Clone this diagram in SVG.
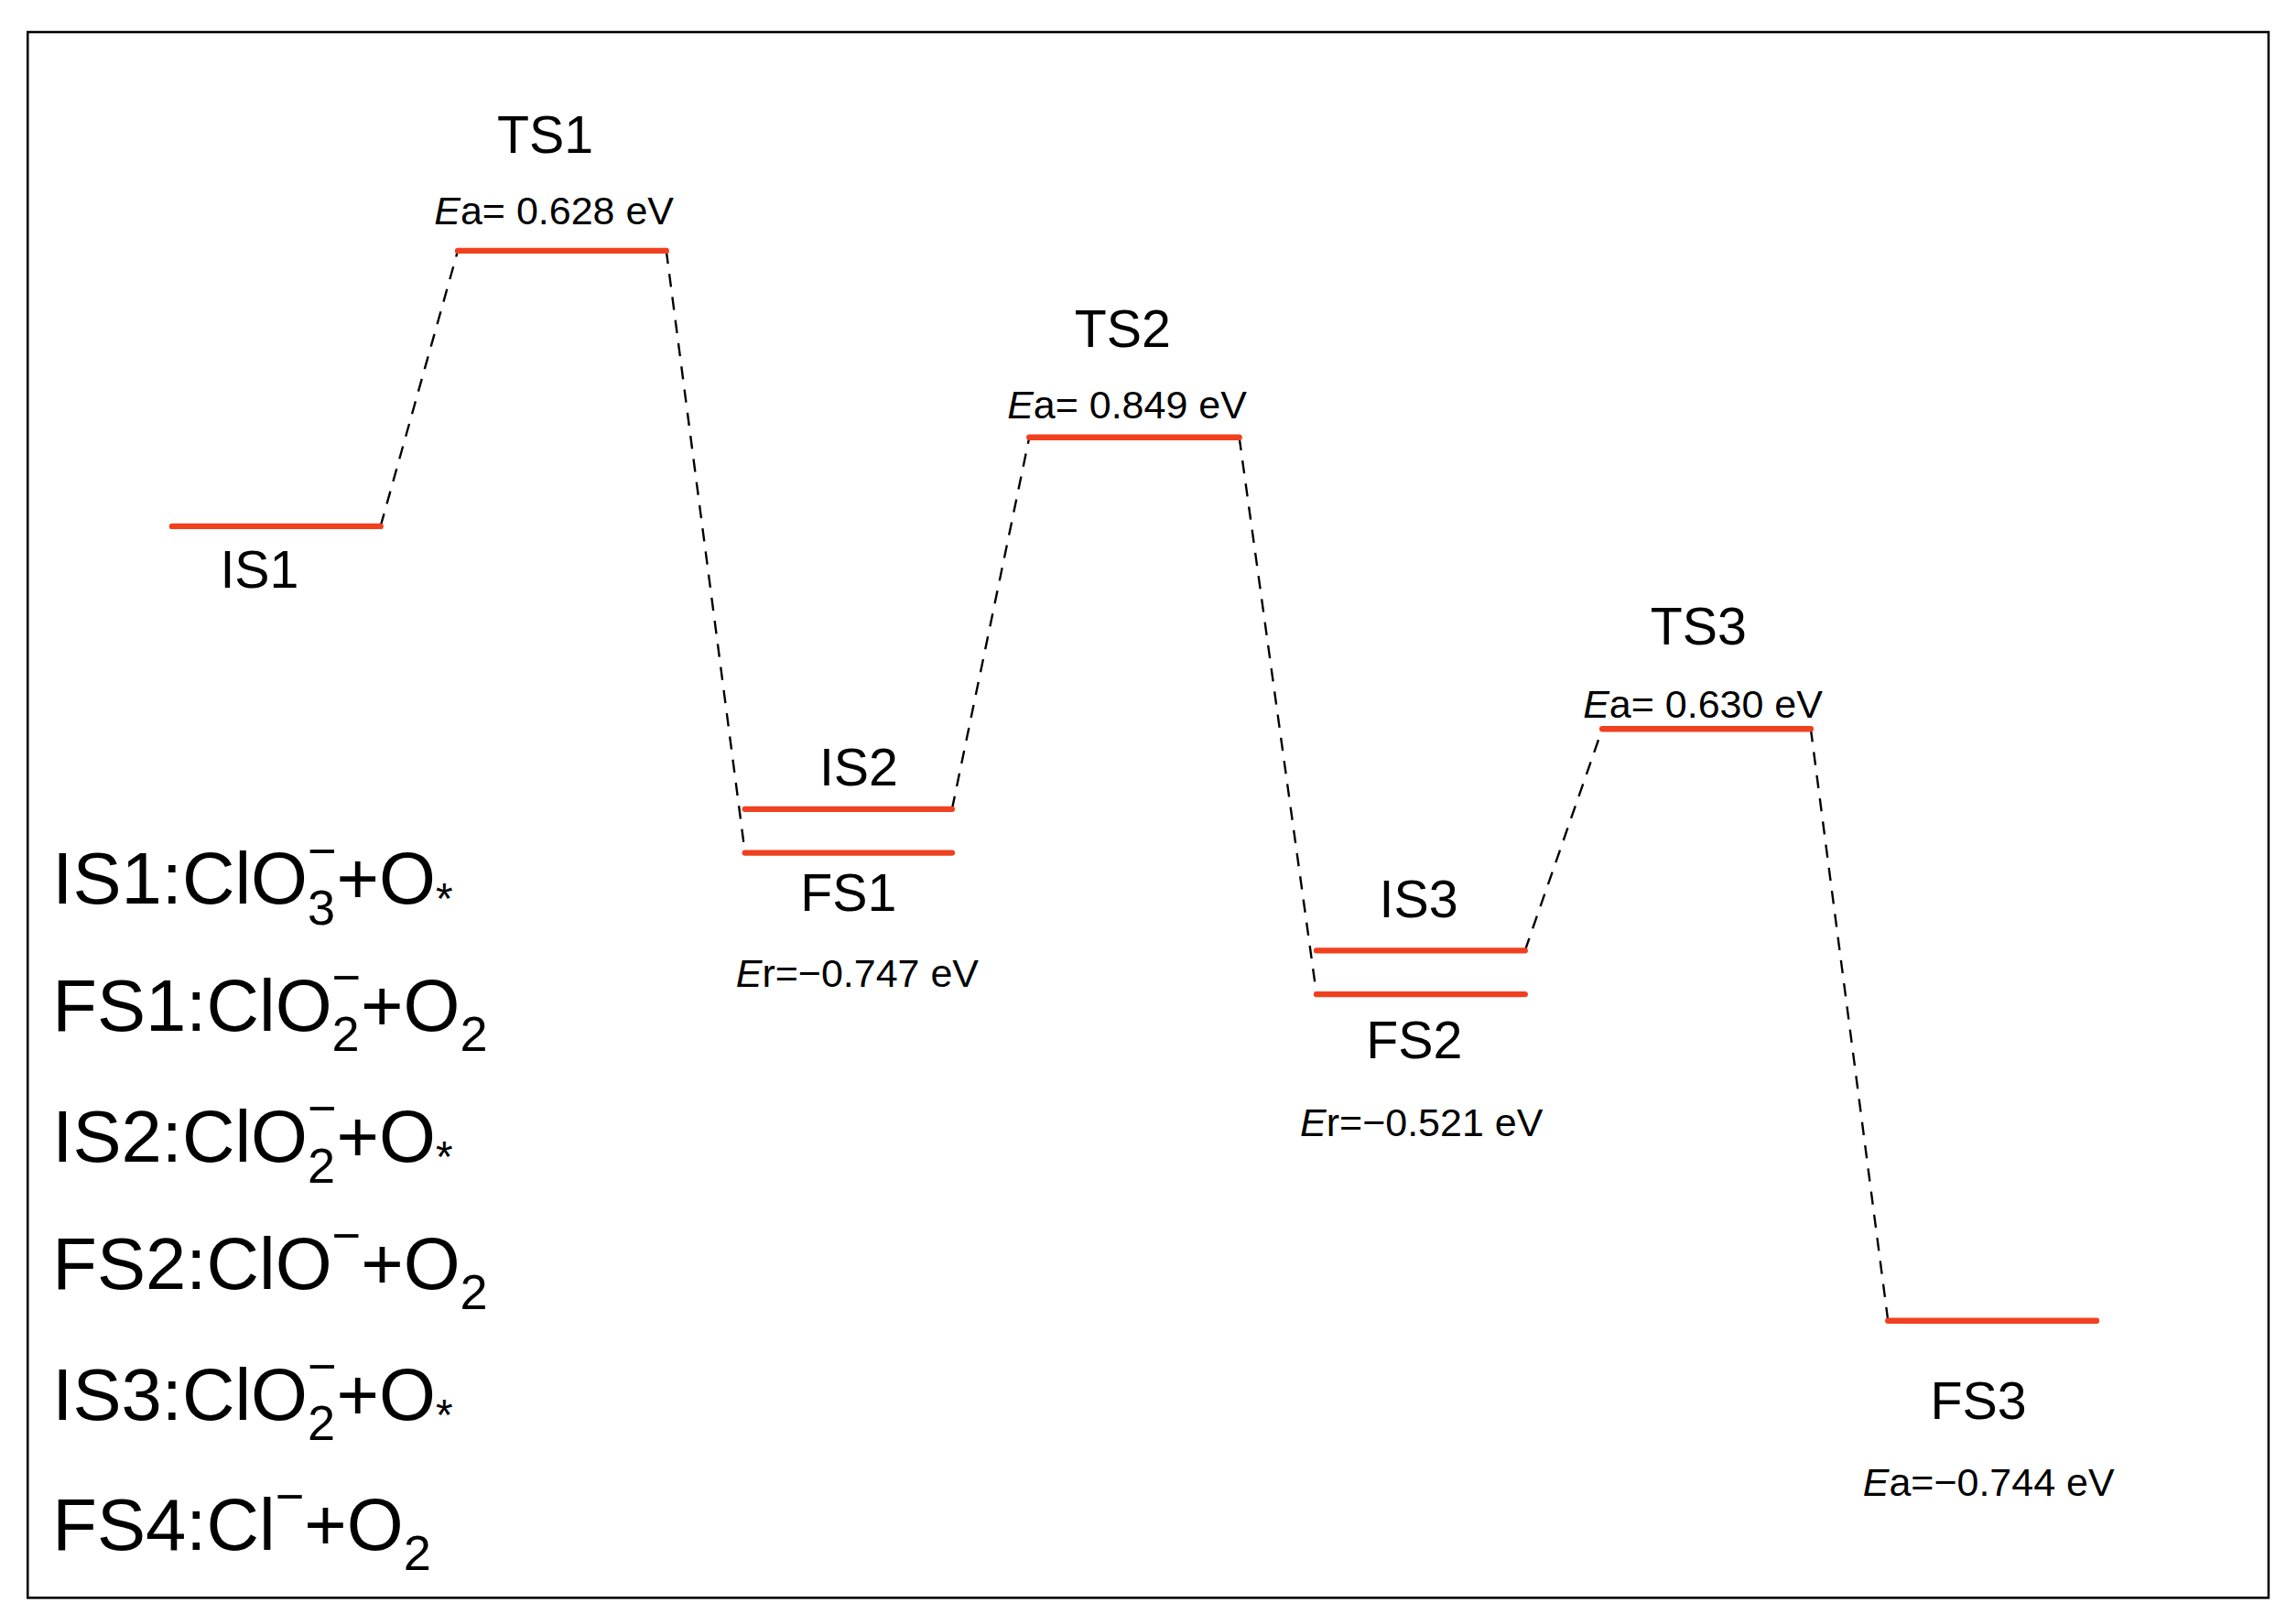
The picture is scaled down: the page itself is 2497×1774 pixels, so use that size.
<svg xmlns="http://www.w3.org/2000/svg" width="2497" height="1774" viewBox="0 0 2497 1774">
<style>
.lv{stroke:#f0401f;stroke-width:4;stroke-linecap:round}
.cn{stroke:#000;stroke-width:1.5;stroke-dasharray:9 7;fill:none}
text{font-family:"Liberation Sans",Arial,sans-serif;fill:#000}
.nm{font-size:36px;text-anchor:middle}
.en{font-size:27px;text-anchor:middle}
.lg{font-size:50px}
.sb{font-size:34px}
</style>
<rect width="2497" height="1774" fill="#fff"/>
<g transform="scale(1.5925)">
<rect x="19" y="22" width="1537" height="1074" fill="none" stroke="#000" stroke-width="1.6"/>
<g id="connectors">
<line class="cn" x1="261" y1="361" x2="314" y2="172"/>
<line class="cn" x1="457" y1="172" x2="511" y2="585"/>
<line class="cn" x1="653" y1="555" x2="706" y2="300"/>
<line class="cn" x1="850" y1="300" x2="903" y2="682"/>
<line class="cn" x1="1046" y1="652" x2="1099" y2="500"/>
<line class="cn" x1="1242" y1="500" x2="1295" y2="906"/>
</g>
<g id="IS1"><line class="lv" x1="118" y1="361" x2="261" y2="361"/><text class="nm" x="178" y="403">IS1</text></g>
<g id="TS1"><line class="lv" x1="314" y1="172" x2="457" y2="172"/><text class="nm" x="374" y="105">TS1</text><text class="en" x="380" y="154"><tspan font-style="italic">E</tspan>a= 0.628 eV</text></g>
<g id="IS2"><line class="lv" x1="511" y1="555" x2="653" y2="555"/><text class="nm" x="589" y="539">IS2</text></g>
<g id="FS1"><line class="lv" x1="511" y1="585" x2="653" y2="585"/><text class="nm" x="582" y="625">FS1</text><text class="en" x="588" y="677"><tspan font-style="italic">E</tspan>r=−0.747 eV</text></g>
<g id="TS2"><line class="lv" x1="706" y1="300" x2="850" y2="300"/><text class="nm" x="770" y="238">TS2</text><text class="en" x="773" y="287"><tspan font-style="italic">E</tspan>a= 0.849 eV</text></g>
<g id="IS3"><line class="lv" x1="903" y1="652" x2="1046" y2="652"/><text class="nm" x="973" y="629">IS3</text></g>
<g id="FS2"><line class="lv" x1="903" y1="682" x2="1046" y2="682"/><text class="nm" x="970" y="726">FS2</text><text class="en" x="975" y="779"><tspan font-style="italic">E</tspan>r=−0.521 eV</text></g>
<g id="TS3"><line class="lv" x1="1099" y1="500" x2="1242" y2="500"/><text class="nm" x="1165" y="442">TS3</text><text class="en" x="1168" y="492"><tspan font-style="italic">E</tspan>a= 0.630 eV</text></g>
<g id="FS3"><line class="lv" x1="1295" y1="906" x2="1438" y2="906"/><text class="nm" x="1357" y="973">FS3</text><text class="en" x="1364" y="1026"><tspan font-style="italic">E</tspan>a=−0.744 eV</text></g>
<g id="legend">
<text class="lg" x="36" y="620">IS1:ClO<tspan class="sb" dy="14">3</tspan><tspan class="sb" dx="-19" dy="-39">−</tspan><tspan dy="25">+O</tspan><tspan font-size="30" dy="7">*</tspan></text>
<text class="lg" x="36" y="707">FS1:ClO<tspan class="sb" dy="14">2</tspan><tspan class="sb" dx="-19" dy="-39">−</tspan><tspan dy="25">+O</tspan><tspan class="sb" dy="14">2</tspan></text>
<text class="lg" x="36" y="797">IS2:ClO<tspan class="sb" dy="14">2</tspan><tspan class="sb" dx="-19" dy="-39">−</tspan><tspan dy="25">+O</tspan><tspan font-size="30" dy="7">*</tspan></text>
<text class="lg" x="36" y="884">FS2:ClO<tspan class="sb" dy="-25">−</tspan><tspan dy="25">+O</tspan><tspan class="sb" dy="14">2</tspan></text>
<text class="lg" x="36" y="974">IS3:ClO<tspan class="sb" dy="14">2</tspan><tspan class="sb" dx="-19" dy="-39">−</tspan><tspan dy="25">+O</tspan><tspan font-size="30" dy="7">*</tspan></text>
<text class="lg" x="36" y="1063">FS4:Cl<tspan class="sb" dy="-25">−</tspan><tspan dy="25">+O</tspan><tspan class="sb" dy="14">2</tspan></text>
</g>
</g>
</svg>
